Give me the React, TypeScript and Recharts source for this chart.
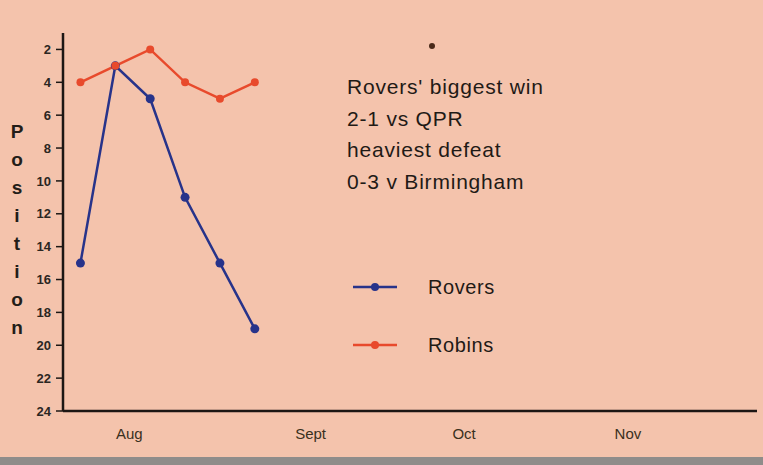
import React from 'react';
import { LineChart, Line, XAxis, YAxis } from 'recharts';

const games = [1, 2, 3, 4, 5, 6];
const rovers = [15, 3, 5, 11, 15, 19];
const robins = [4, 3, 2, 4, 5, 4];
const monthLabels = ['Aug', 'Sept', 'Oct', 'Nov'];
const monthTicks = [2.4, 7.6, 12, 16.7];
const positionTicks = [2, 4, 6, 8, 10, 12, 14, 16, 18, 20, 22, 24];
const noteLines = ["Rovers' biggest win", '2-1 vs QPR', 'heaviest defeat', '0-3 v Birmingham'];
const axisTitle = 'Position';

const BG = '#f4c3ac';
const ROVERS = '#27338a';
const ROBINS = '#e84a2c';
const FONT = 'Liberation Sans, Arial, Helvetica, sans-serif';
const TEXT = '#1f1a16';

const data = games.map((g, i) => ({ game: g, rovers: rovers[i], robins: robins[i] }));

const legendItems = [
  { name: 'Rovers', color: ROVERS },
  { name: 'Robins', color: ROBINS },
];

const ChartLegend = () => (
  <div style={{ position: 'absolute', left: 353, top: 273 }}>
    {legendItems.map((it) => (
      <div key={it.name} style={{ display: 'flex', alignItems: 'center', height: 28, marginBottom: 30 }}>
        <svg width={46} height={12}>
          <line x1={0} y1={6} x2={44} y2={6} stroke={it.color} strokeWidth={2.5} />
          <circle cx={22} cy={6} r={4} fill={it.color} />
        </svg>
        <span
          style={{
            marginLeft: 29,
            fontFamily: FONT,
            fontSize: 20,
            letterSpacing: 0.6,
            color: TEXT,
          }}
        >
          {it.name}
        </span>
      </div>
    ))}
  </div>
);

export default function App() {
  return (
    <div
      style={{
        position: 'fixed',
        left: 0,
        top: 0,
        width: 763,
        height: 465,
        background: BG,
        overflow: 'hidden',
      }}
    >
      <LineChart
        width={763}
        height={465}
        data={data}
        margin={{ top: 33, right: 6, bottom: 0, left: 0 }}
      >
        <XAxis
          dataKey="game"
          type="number"
          domain={[0.5, 20.4]}
          ticks={monthTicks}
          tickFormatter={(v: number) => monthLabels[monthTicks.indexOf(v)] ?? ''}
          axisLine={{ stroke: '#1c1714', strokeWidth: 2.5 }}
          tickLine={false}
          tickSize={0}
          tickMargin={17}
          height={54}
          tick={{ fill: '#3a3020', fontSize: 15, fontFamily: FONT }}
        />
        <YAxis
          type="number"
          reversed
          domain={[1, 24]}
          ticks={positionTicks}
          interval={0}
          width={63}
          axisLine={{ stroke: '#1c1714', strokeWidth: 2.5 }}
          tickLine={{ stroke: '#1c1714', strokeWidth: 1.5 }}
          tickSize={7}
          tickMargin={5}
          tick={{ fill: '#2b2622', fontSize: 13, fontFamily: FONT, fontWeight: 'bold' }}
        />
        <Line
          dataKey="rovers"
          name="Rovers"
          stroke={ROVERS}
          strokeWidth={2.5}
          dot={{ r: 4.5, fill: ROVERS, stroke: ROVERS, strokeWidth: 0 }}
          isAnimationActive={false}
        />
        <Line
          dataKey="robins"
          name="Robins"
          stroke={ROBINS}
          strokeWidth={2.5}
          dot={{ r: 4, fill: ROBINS, stroke: ROBINS, strokeWidth: 0 }}
          isAnimationActive={false}
        />
      </LineChart>

      <ChartLegend />

      {/* stacked axis title */}
      {axisTitle.split('').map((ch, i) => (
        <div
          key={i}
          style={{
            position: 'absolute',
            left: 6,
            width: 22,
            top: 120 + i * 28,
            textAlign: 'center',
            fontFamily: FONT,
            fontWeight: 'bold',
            fontSize: 19,
            lineHeight: '24px',
            color: '#231d18',
          }}
        >
          {ch}
        </div>
      ))}

      {/* annotation */}
      <div
        style={{
          position: 'absolute',
          left: 347,
          top: 71,
          fontFamily: FONT,
          fontSize: 21,
          letterSpacing: 0.8,
          lineHeight: '31.7px',
          color: TEXT,
          whiteSpace: 'nowrap',
        }}
      >
        {noteLines.map((l) => (
          <div key={l}>{l}</div>
        ))}
      </div>

      {/* print speck */}
      <div
        style={{
          position: 'absolute',
          left: 429,
          top: 43,
          width: 6,
          height: 6,
          borderRadius: 3,
          background: '#4a2a1a',
        }}
      />

      {/* scan edge */}
      <div
        style={{
          position: 'absolute',
          left: 0,
          top: 457,
          width: 763,
          height: 8,
          background: '#8f8c8a',
        }}
      />
    </div>
  );
}
